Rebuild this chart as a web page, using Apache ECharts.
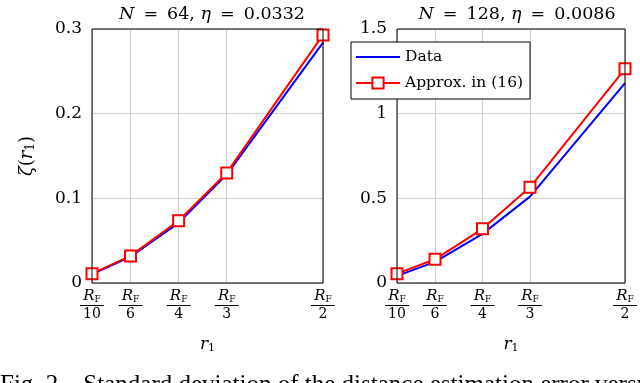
<!DOCTYPE html>
<html>
<head>
<meta charset="utf-8">
<script src="https://cdn.jsdelivr.net/npm/echarts@6/dist/echarts.min.js"></script>
<style>html,body{margin:0;padding:0;background:#fff}#c{width:640px;height:383px}</style>
</head>
<body>
<div id="c"></div>
<script>
// x positions r1 = R_F / d
const xValues = [0.1, 0.1667, 0.25, 0.3333, 0.5];
const xTickDenoms = ['10', '6', '4', '3', '2'];
// N = 64, eta = 0.0332
const left_data = [0.0105, 0.031, 0.071, 0.128, 0.284];
const left_approx = [0.011, 0.032, 0.0735, 0.130, 0.293];
// N = 128, eta = 0.0086
const right_data = [0.042, 0.125, 0.29, 0.51, 1.18];
const right_approx = [0.055, 0.14, 0.32, 0.565, 1.265];
const leftYTicks = [0, 0.1, 0.2, 0.3];
const rightYTicks = [0, 0.5, 1, 1.5];
const titles = ['{i|N} \u2009=\u2009 64, {i|η} \u2009=\u2009 0.0332', '{i|N} \u2009=\u2009 128, {i|η} \u2009=\u2009 0.0086'];
const seriesNames = ['Data', 'Approx. in (16)'];
const caption = 'Fig. 2.\u2002 Standard deviation of the distance estimation error versus';

const FONT = 'DejaVu Serif';
const CAPFONT = 'Liberation Serif';
const pairs = (ys) => xValues.map((x, i) => [x, ys[i]]);

function xAxis(gi) {
  return {
    gridIndex: gi, type: 'value', min: 0.1, max: 0.5,
    axisLine: {show: false},
    axisTick: {show: false, customValues: xValues},
    splitLine: {show: true, lineStyle: {color: '#cfcfcf', width: 1}},
    axisLabel: {
      customValues: xValues, margin: 6,
      formatter: (v) => {
        let k = xValues.findIndex(x => Math.abs(x - v) < 1e-3);
        return '{r|R}{f|F}\n{bar|}\n{d|' + xTickDenoms[k] + '}';
      },
      rich: {
        r: {fontFamily: FONT, fontStyle: 'italic', fontSize: 15, color: '#000', lineHeight: 15},
        f: {fontFamily: FONT, fontSize: 9, color: '#000', verticalAlign: 'bottom', lineHeight: 12},
        bar: {width: 24, height: 1, backgroundColor: '#000', lineHeight: 3},
        d: {fontFamily: FONT, fontSize: 14, color: '#000', lineHeight: 15}
      }
    },
    name: '{i|r}{s|1}', nameLocation: 'middle', nameGap: 52,
    nameTextStyle: {rich: {
      i: {fontFamily: FONT, fontStyle: 'italic', fontSize: 17, color: '#000'},
      s: {fontFamily: FONT, fontSize: 11, color: '#000', verticalAlign: 'bottom', padding: [8,0,0,0]}
    }}
  };
}
function yAxis(gi, ticks, withName) {
  const a = {
    gridIndex: gi, type: 'value', min: ticks[0], max: ticks[ticks.length - 1],
    interval: ticks[1] - ticks[0],
    axisLine: {show: false}, axisTick: {show: false},
    splitLine: {show: true, lineStyle: {color: '#cfcfcf', width: 1}},
    axisLabel: {fontFamily: FONT, fontSize: 17, color: '#000', margin: 10,
      formatter: (v) => String(+v.toFixed(2))}
  };
  if (withName) {
    Object.assign(a, {
      name: '{i|ζ}{p|(}{i|r}{s|1}{p|)}', nameLocation: 'middle', nameGap: 55, nameRotate: 90,
      nameTextStyle: {rich: {
        i: {fontFamily: FONT, fontStyle: 'italic', fontSize: 18, color: '#000'},
        p: {fontFamily: FONT, fontSize: 18, color: '#000'},
        s: {fontFamily: FONT, fontSize: 12, color: '#000', verticalAlign: 'bottom', padding: [8,0,0,0]}
      }}
    });
  }
  return a;
}
function lineSeries(gi, name, ys, withMarker) {
  const s = {
    type: 'line', name: name, xAxisIndex: gi, yAxisIndex: gi, data: pairs(ys),
    color: withMarker ? '#ff0000' : '#0000ff',
    lineStyle: {width: 2, color: withMarker ? '#ff0000' : '#0000ff'},
    symbol: withMarker ? 'rect' : 'none', symbolSize: 11,
    showSymbol: withMarker, animation: false, clip: false,
    z: withMarker ? 3 : 2
  };
  if (withMarker) s.itemStyle = {color: '#fff', borderColor: '#ff0000', borderWidth: 2};
  return s;
}

const chart = echarts.init(document.getElementById('c'), null, {renderer: 'canvas'});
const titleStyle = {fontFamily: FONT, fontSize: 17.5, fontWeight: 'normal', color: '#000',
  rich: {i: {fontFamily: FONT, fontStyle: 'italic', fontSize: 17.5, color: '#000'}}};
chart.setOption({
  animation: false,
  backgroundColor: '#fff',
  title: [
    {text: titles[0], left: 207, top: 0, textAlign: 'center', textStyle: titleStyle},
    {text: titles[1], left: 512, top: 0, textAlign: 'center', textStyle: titleStyle}
  ],
  grid: [
    {left: 92, right: 317, top: 29, bottom: 100, show: true, borderColor: '#000', borderWidth: 1, backgroundColor: 'transparent', z: 4},
    {left: 397, right: 11, top: 29, bottom: 100, show: true, borderColor: '#000', borderWidth: 1, backgroundColor: 'transparent', z: 4}
  ],
  xAxis: [xAxis(0), xAxis(1)],
  yAxis: [yAxis(0, leftYTicks, true), yAxis(1, rightYTicks, false)],
  legend: {
    left: 351, top: 42, orient: 'vertical', itemWidth: 44, itemHeight: 14, itemGap: 10,
    padding: [7, 7, 8, 4], borderColor: '#000', borderWidth: 1, backgroundColor: '#fff',
    data: [
      {name: seriesNames[0], itemStyle: {opacity: 0}},
      {name: seriesNames[1]}
    ],
    z: 10, zlevel: 1,
    textStyle: {fontFamily: FONT, fontSize: 15.5, color: '#000'}
  },
  series: [
    lineSeries(0, seriesNames[0], left_data, false),
    lineSeries(0, seriesNames[1], left_approx, true),
    lineSeries(1, seriesNames[0], right_data, false),
    lineSeries(1, seriesNames[1], right_approx, true)
  ],
  graphic: [{
    type: 'text', left: 0, top: 373, silent: true,
    style: {text: caption, fontFamily: CAPFONT, fontSize: 25, fill: '#000'}
  }]
});
</script>
</body>
</html>
